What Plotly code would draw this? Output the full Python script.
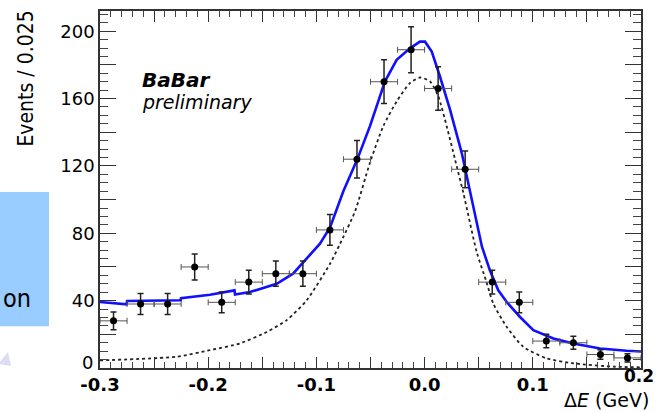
import plotly.graph_objects as go

# ---- data ----
de_centers = [-0.2875, -0.2625, -0.2375, -0.2125, -0.1875, -0.1625, -0.1375, -0.1125,
              -0.0875, -0.0625, -0.0375, -0.0125, 0.0125, 0.0375, 0.0625, 0.0875,
              0.1125, 0.1375, 0.1625, 0.1875]
events = [28, 38, 38, 60, 39, 51, 56, 56, 82, 124, 170, 189, 166, 118, 51, 39, 16, 15, 8, 6]
events_err = [5.3, 6.2, 6.2, 7.7, 6.2, 7.1, 7.5, 7.5, 9.1, 11.1, 13.0, 13.7, 12.9, 10.9,
              7.1, 6.2, 4.0, 3.9, 2.8, 2.4]
bin_half_width = 0.0125

fit_x = [-0.3, -0.2755, -0.2750, -0.2255, -0.2251, -0.1983, -0.1757, -0.1752, -0.1614,
         -0.1367, -0.1216, -0.1031, -0.0967, -0.0874, -0.0751, -0.0622, -0.0505, -0.0366,
         -0.0258, -0.0135, -0.0043, 0.0004, 0.0066, 0.0142, 0.0235, 0.0343, 0.0420, 0.0466,
         0.0530, 0.0604, 0.0681, 0.0759, 0.0882, 0.1005, 0.1190, 0.1374, 0.1621, 0.1868, 0.2]
fit_total = [39.2, 37.8, 39.8, 40.2, 41.5, 43.5, 46.1, 43.7, 45.1, 50.0, 56.0, 69.7, 73.8,
             83.5, 105.0, 123.9, 143.6, 170.2, 183.0, 189.8, 193.8, 193.8, 187.9, 173.1,
             153.4, 127.8, 104.0, 90.0, 72.0, 57.9, 46.1, 39.2, 30.3, 22.5, 17.5, 14.6,
             11.6, 10.2, 9.8]

sig_x = [-0.3, -0.2291, -0.1983, -0.1706, -0.1459, -0.1275, -0.1090, -0.0874, -0.0782,
         -0.0643, -0.0505, -0.0382, -0.0258, -0.0135, -0.0043, 0.0050, 0.0127, 0.0204,
         0.0281, 0.0358, 0.0481, 0.0567, 0.0635, 0.0759, 0.0912, 0.1128, 0.1374, 0.1744, 0.2]
sig_y = [4.5, 6.7, 10.6, 14.6, 21.4, 28.4, 40.2, 61.9, 73.7, 93.0, 121.9, 143.6, 158.3,
         169.2, 172.5, 170.2, 161.3, 143.6, 123.9, 104.0, 69.0, 52.0, 38.2, 24.4, 12.6,
         5.7, 2.8, 0.8, 0.4]

x_tickvals = [-0.3, -0.25, -0.2, -0.15, -0.1, -0.05, 0.0, 0.05, 0.1, 0.15, 0.2]
x_ticktext = ["-0.3", "", "-0.2", "", "-0.1", "", "0.0", "", "0.1", "", ""]
x_last_label = "0.2"
y_tickvals = [0, 20, 40, 60, 80, 100, 120, 140, 160, 180, 200]
y_ticktext = ["", "", "40", "", "80", "", "120", "", "160", "", "200"]
y_zero_label = "0"

fig = go.Figure()

fig.add_trace(go.Scatter(x=sig_x, y=sig_y, mode="lines",
                         line=dict(color="#222222", width=1.8, dash="3px,3px", shape="spline", smoothing=0.6),
                         hoverinfo="skip", showlegend=False))
fig.add_trace(go.Scatter(x=fit_x, y=fit_total, mode="lines",
                         line=dict(color="#1010ff", width=2.6),
                         hoverinfo="skip", showlegend=False))
fig.add_trace(go.Scatter(x=de_centers, y=events, mode="markers",
                         marker=dict(color="black", size=7),
                         error_y=dict(type="data", array=events_err, color="#222222", thickness=1.5, width=3),
                         error_x=dict(type="constant", value=bin_half_width, color="#555555", thickness=1, width=3),
                         showlegend=False))

W, H = 656, 412
L, R, T, B = 100, 15, 9, 44
pw, ph = W - L - R, H - T - B

def px(xp):
    return (xp - L) / pw

def py(yp):
    return (H - B - yp) / ph

axis_common = dict(showgrid=False, zeroline=False, showline=True, linecolor="#333333",
                   linewidth=1.5, mirror="ticks", ticks="inside", tickcolor="#333333",
                   tickwidth=1)

fig.update_layout(
    width=W, height=H,
    margin=dict(l=L, r=R, t=T, b=B),
    paper_bgcolor="white", plot_bgcolor="white",
    xaxis=dict(range=[-0.3, 0.2], tickmode="array", tickvals=x_tickvals, ticktext=x_ticktext,
               ticklen=11,
               tickfont=dict(family="DejaVu Sans", size=18, weight="bold", color="black"),
               minor=dict(tickmode="linear", tick0=-0.3, dtick=0.01, ticks="inside", ticklen=6,
                          tickcolor="#444444", tickwidth=1),
               **axis_common),
    yaxis=dict(range=[0, 212], tickmode="array", tickvals=y_tickvals, ticktext=y_ticktext,
               ticklen=16,
               tickfont=dict(family="DejaVu Sans", size=18, color="black"),
               minor=dict(tickmode="linear", tick0=0, dtick=5, ticks="inside", ticklen=8,
                          tickcolor="#444444", tickwidth=1),
               **axis_common),
    shapes=[
        dict(type="rect", xref="paper", yref="paper", x0=px(-5), x1=px(49), y0=py(326), y1=py(191),
             fillcolor="#99ccff", line=dict(width=0), layer="below"),
        dict(type="path", xref="paper", yref="paper",
             path=f"M {px(-2)} {py(364)} L {px(8)} {py(352)} L {px(11)} {py(366)} Z",
             fillcolor="#dcdcf4", line=dict(width=0)),
    ],
    annotations=[
        dict(text="on", xref="paper", yref="paper", x=px(1), y=py(298), xanchor="left", yanchor="middle",
             showarrow=False, font=dict(family="DejaVu Sans Condensed, sans-serif", size=25, color="black")),
        dict(text="Events / 0.025", xref="paper", yref="paper", x=px(26), y=py(77), textangle=-90,
             xanchor="center", yanchor="middle", showarrow=False,
             font=dict(family="DejaVu Sans Condensed, sans-serif", size=21, color="black")),
        dict(text=y_zero_label, xref="paper", yref="paper", x=px(95), y=py(362), xanchor="right",
             yanchor="middle", showarrow=False, font=dict(family="DejaVu Sans", size=18, color="black")),
        dict(text=x_last_label, xref="paper", yref="paper", x=px(655), y=py(376), xanchor="right",
             yanchor="middle", showarrow=False, borderpad=0,
             font=dict(family="DejaVu Sans", size=17, weight="bold", color="black")),
        dict(text="<b><i>BaBar</i></b>", xref="paper", yref="paper", x=px(140), y=py(78), xanchor="left",
             yanchor="middle", showarrow=False, font=dict(family="DejaVu Sans", size=20, color="black")),
        dict(text="<i>preliminary</i>", xref="paper", yref="paper", x=px(140), y=py(101), xanchor="left",
             yanchor="middle", showarrow=False, font=dict(family="DejaVu Sans", size=19, color="black")),
        dict(text="Δ<i>E</i> (GeV)", xref="paper", yref="paper", x=px(650), y=py(412), xanchor="right",
             yanchor="bottom", showarrow=False, borderpad=0,
             font=dict(family="DejaVu Sans", size=19, color="black")),
    ],
)

fig.write_html("out.html", config={"displayModeBar": False},
               post_script="document.body.style.margin='0';")
